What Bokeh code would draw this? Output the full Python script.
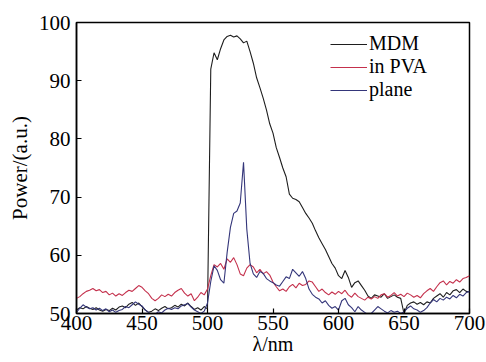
from bokeh.plotting import figure
from bokeh.models import Range1d, FixedTicker
from bokeh.embed import file_html
from bokeh.resources import INLINE

wl_start, wl_step = 400.0, 2.5

mdm = [
    50.6, 51.0, 50.8, 51.2, 50.9, 50.7, 51.0, 50.6, 50.4, 50.7,
    50.5, 50.9, 50.6, 51.1, 51.3, 51.0, 51.6, 51.9, 51.4, 51.8,
    51.2, 50.6, 50.2, 50.4, 50.8, 50.5, 50.9, 51.2, 50.8, 51.0,
    51.4, 51.1, 51.6, 51.3, 51.8, 51.2, 50.7, 51.0, 50.6, 51.2,
    50.8, 92.0, 94.8, 93.6, 95.5, 97.0, 97.6, 97.8, 97.5, 97.7,
    97.2, 96.5, 96.8, 95.0, 93.0, 90.5, 88.8, 87.0, 85.0, 82.6,
    81.0, 78.5, 76.8, 75.0, 73.5, 70.5, 69.8, 69.6, 69.2, 68.2,
    67.2, 66.4, 65.5, 64.2, 63.0, 62.0, 61.0, 59.8, 58.6, 57.8,
    56.5, 56.0, 57.4, 56.2, 54.5, 55.3, 55.6, 54.8, 54.0, 53.0,
    52.6, 53.2, 53.0, 52.8, 53.4, 52.6, 52.9, 53.2, 52.8, 52.6,
    50.0, 51.4, 51.8, 52.0, 51.6, 51.9, 51.5, 52.0, 51.8, 52.6,
    53.0, 53.4, 52.8, 53.6, 53.2, 53.9, 54.1, 53.6, 54.2, 53.8,
    53.7,
]

in_pva = [
    52.6, 52.9, 53.4, 53.8, 54.0, 54.3, 53.9, 54.1, 53.6, 53.8,
    53.2, 53.5, 53.0, 53.4, 53.1, 53.6, 54.0, 53.8, 54.3, 54.8,
    54.5, 53.9, 53.4, 52.6, 52.2, 52.6, 53.2, 52.9, 53.3, 53.0,
    53.6, 54.0, 54.3, 53.5, 53.0, 53.4, 52.2, 52.8, 53.6, 53.2,
    54.2, 56.5, 58.4, 58.0, 58.6, 57.6, 59.4, 58.8, 59.6, 58.4,
    56.8, 56.5, 57.8, 58.4, 58.0, 57.0, 57.6, 56.8, 57.2, 56.6,
    55.4, 54.6, 53.9, 54.2, 53.8, 54.6, 55.0, 54.4, 55.2, 54.8,
    55.0, 55.6, 55.4, 54.6, 53.8, 54.2, 53.6, 53.2, 53.7, 53.3,
    53.8, 53.4, 54.0, 53.2, 52.8, 53.5, 52.9, 52.6, 52.3, 52.8,
    52.5, 52.9, 52.6, 53.2, 53.4, 52.8, 53.1, 53.6, 53.0, 53.3,
    52.9, 53.5, 53.2, 52.8, 53.1, 52.7, 53.4, 53.9, 54.3, 53.8,
    54.6, 55.3, 55.6, 54.9, 55.5, 55.2, 55.8, 55.4, 56.0, 56.2,
    56.5,
]

plane = [
    50.2, 50.9, 51.5, 51.1, 50.8, 51.0, 50.6, 50.9, 50.5, 50.8,
    50.3, 50.6, 50.2, 50.5, 50.7, 51.2, 51.0, 51.5, 52.0, 51.6,
    51.3, 50.6, 50.2, 49.8, 49.9, 50.3, 50.1, 50.6, 50.9, 50.7,
    51.0, 50.8, 51.3, 51.5, 51.7, 51.1, 50.6, 50.3, 50.0, 50.4,
    51.8, 55.5, 58.2, 57.4, 55.8, 55.2, 60.5, 64.8, 67.2, 67.6,
    69.0, 76.0, 64.5, 58.6, 56.8, 56.2, 57.2, 56.9, 56.0, 55.6,
    55.3, 54.9, 54.7, 55.5, 56.3, 56.0, 57.6, 57.0, 56.4, 57.2,
    56.0, 54.2, 53.3, 52.8, 52.5, 51.8, 52.2, 51.4, 50.9, 51.2,
    50.6, 52.2, 52.6, 51.5, 51.0, 50.3, 51.2, 50.6, 50.2, 49.8,
    50.0, 50.6, 51.2, 50.8, 50.4, 50.1, 50.5, 50.2, 50.4, 50.0,
    50.3, 50.9, 51.3, 50.8, 50.6, 50.2, 50.5, 51.0, 51.8, 52.4,
    52.0, 52.6, 52.3, 52.8, 52.5, 53.1, 52.7, 53.3, 53.0, 53.6,
    53.8,
]

wavelength = [wl_start + wl_step * i for i in range(len(mdm))]

series_names = ["MDM", "in PVA", "plane"]
series_colors = ["#1e1e1e", "#c4304c", "#34367a"]

x_ticks = [400, 450, 500, 550, 600, 650, 700]
y_ticks = [50, 60, 70, 80, 90, 100]
x_title = "\u03bb/nm"
y_title = "Power/(a.u.)"

FONT = "Liberation Serif"

p = figure(width=486, height=362, output_backend="svg", toolbar_location=None,
           x_range=Range1d(400, 700), y_range=Range1d(50, 100),
           min_border_left=76, min_border_right=17, min_border_top=22,
           min_border_bottom=49,
           x_axis_label=x_title, y_axis_label=y_title)

p.background_fill_color = "white"
p.border_fill_color = "white"
p.outline_line_color = "black"
p.outline_line_width = 1.5
p.grid.visible = False

p.xaxis.ticker = FixedTicker(ticks=x_ticks)
p.yaxis.ticker = FixedTicker(ticks=y_ticks)
for ax in (p.xaxis, p.yaxis):
    ax.axis_line_color = "black"
    ax.axis_line_width = 1.5
    ax.major_tick_in = 5
    ax.major_tick_out = 0
    ax.major_tick_line_width = 1.2
    ax.minor_tick_line_color = None
    ax.major_label_text_font = FONT
    ax.major_label_text_font_size = "21px"
    ax.major_label_text_color = "black"
    ax.axis_label_text_font = FONT
    ax.axis_label_text_font_style = "normal"
    ax.axis_label_text_color = "black"
p.xaxis.axis_label_text_font_size = "20px"
p.yaxis.axis_label_text_font_size = "21px"
p.xaxis.major_label_standoff = 2
p.xaxis.axis_label_standoff = 0
p.yaxis.major_label_standoff = 6
p.yaxis.axis_label_standoff = 4

for name, vals, col in zip(series_names, [mdm, in_pva, plane], series_colors):
    p.line(wavelength, vals, line_color=col, line_width=1.1, legend_label=name)

legend = p.legend[0]
legend.location = (254, 212)
legend.label_text_font = FONT
legend.label_text_font_size = "20px"
legend.label_text_color = "black"
legend.glyph_width = 37
legend.glyph_height = 20
legend.label_height = 20
legend.label_standoff = 2
legend.spacing = -1
legend.padding = 0
legend.margin = 0
legend.border_line_color = None
legend.background_fill_alpha = 0

open("out.html", "w").write(file_html(p, INLINE))
